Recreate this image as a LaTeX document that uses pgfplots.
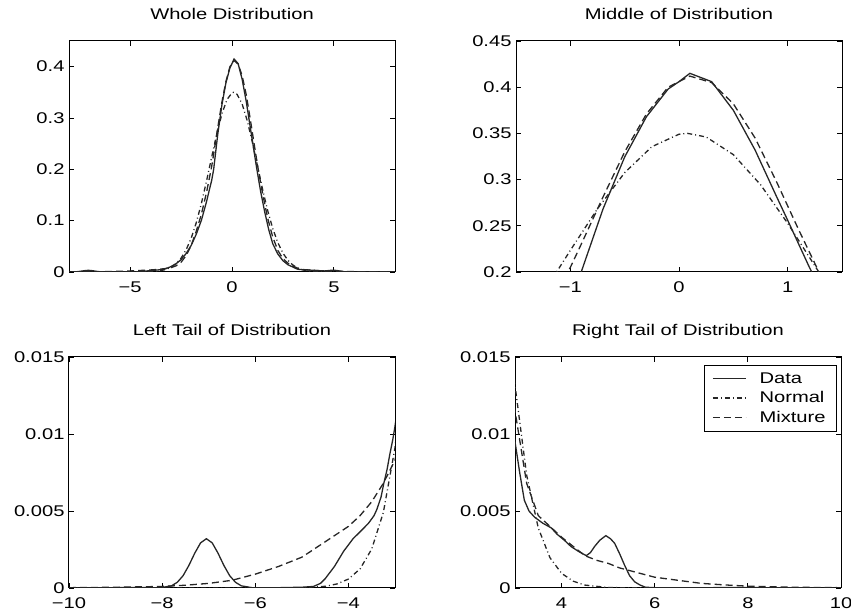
\documentclass[border=0pt]{standalone}
\usepackage{fontspec}
\setmainfont{Liberation Sans}[FakeStretch=1.3]
\usepackage{pgfplots}
\usepackage{pgfplotstable}
\pgfplotsset{compat=1.18}

% Kernel density of the returns
\pgfplotstableread{
x y
-10 0
-9 0.00002
-8.5 0.00004
-8.05 0.00001
-7.8 0.00014
-7.675 0.00037
-7.55 0.0008
-7.425 0.00147
-7.3 0.00226
-7.175 0.00293
-7.05 0.0032
-6.925 0.00293
-6.8 0.00226
-6.675 0.00147
-6.55 0.0008
-6.425 0.00037
-6.3 0.00014
-6.05 0.00001
-5.5 0.00002
-5 0.00005
-4.75 0.0001
-4.6 0.0003
-4.5 0.0006
-4.4 0.0010
-4.3 0.0014
-4.2 0.0019
-4.1 0.0024
-4.0 0.0028
-3.9 0.0032
-3.8 0.0035
-3.7 0.0038
-3.57 0.0042
-3.45 0.0047
-3.39 0.0051
-3.3 0.0059
-3.24 0.0068
-3.17 0.0077
-3.11 0.0087
-3.05 0.0096
-3.0 0.0105
-2.75 0.016
-2.5 0.024
-2.25 0.036
-2.0 0.052
-1.75 0.074
-1.5 0.101
-1.25 0.137
-1.1 0.162
-1.0 0.178
-0.9 0.200
-0.7 0.268
-0.5 0.3245
-0.3 0.368
-0.1 0.398
0.0 0.406
0.1 0.415
0.3 0.406
0.5 0.375
0.7 0.332
0.9 0.281
1.0 0.256
1.2 0.205
1.4 0.158
1.6 0.118
1.8 0.083
2.0 0.055
2.25 0.035
2.5 0.022
2.75 0.014
3.0 0.0095
3.1 0.0075
3.2 0.0057
3.3 0.0050
3.42 0.0046
3.6 0.0042
3.78 0.0039
3.9 0.0035
4.06 0.0031
4.2 0.0027
4.35 0.0024
4.53 0.0021
4.62 0.0023
4.71 0.0027
4.82 0.0031
4.95 0.0034
5.05 0.0032
5.14 0.0029
5.25 0.0022
5.35 0.0015
5.46 0.0008
5.57 0.0004
5.68 0.0002
5.8 0.00005
6.0 0.00002
7 0.00002
8 0.00003
9 0.00001
10 0
}\datatab

% Fitted normal density
\pgfplotstableread{
x y
-10 0
-6 0
-5 0.00002
-4.5 0.00011
-4.25 0.00026
-4 0.00058
-3.75 0.00124
-3.5 0.00253
-3.25 0.00491
-3 0.0091
-2.75 0.0161
-2.5 0.0270
-2.25 0.0433
-2 0.0662
-1.75 0.0965
-1.5 0.1339
-1.25 0.1772
-1 0.2234
-0.75 0.2685
-0.5 0.3075
-0.25 0.3356
0 0.3491
0.08 0.35
0.25 0.3461
0.5 0.3270
0.75 0.2945
1 0.2527
1.25 0.2067
1.5 0.1611
1.75 0.1197
2 0.0847
2.25 0.0572
2.5 0.0368
2.75 0.0225
3 0.01316
3.25 0.00733
3.5 0.00389
3.75 0.00197
4 0.00095
4.25 0.00044
4.5 0.00019
5 0.00003
6 0
10 0
}\normtab

% Fitted mixture density
\pgfplotstableread{
x y
-10 0.00002
-9 0.00005
-8 0.0001
-7.5 0.00018
-7 0.0003
-6.5 0.0005
-6 0.0009
-5.5 0.0014
-5 0.0020
-4.75 0.0025
-4.5 0.0030
-4.25 0.0035
-4 0.0040
-3.75 0.0047
-3.5 0.0056
-3.25 0.0068
-3 0.0083
-2.75 0.012
-2.5 0.019
-2.25 0.032
-2 0.052
-1.75 0.080
-1.5 0.113
-1.25 0.155
-1.0 0.205
-0.9 0.230
-0.7 0.281
-0.5 0.330
-0.3 0.371
-0.1 0.400
0.1 0.412
0.3 0.405
0.5 0.382
0.7 0.345
0.9 0.297
1.1 0.246
1.3 0.197
1.5 0.153
1.75 0.105
2 0.068
2.25 0.042
2.5 0.026
2.75 0.017
3 0.0115
3.25 0.0068
3.5 0.0047
3.75 0.0040
4 0.0033
4.25 0.0027
4.5 0.0021
4.75 0.0018
5 0.0016
5.25 0.0013
5.5 0.0011
5.75 0.0009
6 0.0007
6.5 0.0005
7 0.0003
7.5 0.0002
8 0.00012
9 0.00005
10 0.00002
}\mixtab

\pgfplotsset{
  panel/.style={
    scale only axis, width=326pt, height=231pt,
    font=\fontsize{15.5}{18}\selectfont,
    axis line style={line width=1pt, black},
    tick style={line width=0.8pt, black},
    major tick length=5pt, tick align=inside,
    xticklabel shift=6pt, yticklabel shift=1pt,
    scaled ticks=false,
    title style={at={(0.5,1)}, anchor=base, yshift=15pt},
    anchor=south west,
  },
  sdata/.style={black!85, line width=1.3pt},
  snorm/.style={black!85, line width=1.3pt, dash pattern=on 5pt off 3pt on 1pt off 3pt},
  smix/.style={black!85, line width=1.3pt, dash pattern=on 7pt off 4pt},
}

\begin{document}
\begin{tikzpicture}
\useasboundingbox (0,0) rectangle (851pt,615pt);

% Whole distribution
\begin{axis}[panel, at={(69pt,343pt)},
  title={Whole Distribution},
  xmin=-8, xmax=8, ymin=0, ymax=0.45,
  xtick={-5,0,5}, xticklabels={−5,0,5},
  ytick={0,0.1,0.2,0.3,0.4}, yticklabels={0,0.1,0.2,0.3,0.4}]
  \addplot[sdata] table[x=x,y=y] {\datatab};
  \addplot[snorm] table[x=x,y=y] {\normtab};
  \addplot[smix] table[x=x,y=y] {\mixtab};
\end{axis}

% Middle of distribution
\begin{axis}[panel, at={(516pt,343pt)},
  title={Middle of Distribution},
  xmin=-1.5, xmax=1.5, ymin=0.2, ymax=0.45,
  xtick={-1,0,1}, xticklabels={−1,0,1},
  ytick={0.2,0.25,0.3,0.35,0.4,0.45},
  yticklabels={0.2,0.25,0.3,0.35,0.4,0.45}]
  \addplot[sdata] table[x=x,y=y] {\datatab};
  \addplot[snorm] table[x=x,y=y] {\normtab};
  \addplot[smix] table[x=x,y=y] {\mixtab};
\end{axis}

% Left tail
\begin{axis}[panel, at={(69pt,27pt)},
  title={Left Tail of Distribution},
  xmin=-10, xmax=-3, ymin=0, ymax=0.015,
  xtick={-10,-8,-6,-4}, xticklabels={−10,−8,−6,−4},
  ytick={0,0.005,0.01,0.015}, yticklabels={0,0.005,0.01,0.015}]
  \addplot[sdata] table[x=x,y=y] {\datatab};
  \addplot[snorm] table[x=x,y=y] {\normtab};
  \addplot[smix] table[x=x,y=y] {\mixtab};
\end{axis}

% Right tail
\begin{axis}[panel, at={(515pt,27pt)},
  title={Right Tail of Distribution},
  xmin=3, xmax=10, ymin=0, ymax=0.015,
  xtick={4,6,8,10}, xticklabels={4,6,8,10},
  ytick={0,0.005,0.01,0.015}, yticklabels={0,0.005,0.01,0.015},
  legend cell align=left,
  legend image code/.code={\draw[#1] (0pt,0pt) -- (33pt,0pt);},
  legend style={at={(0.988,0.965)}, anchor=north east,
    draw=black, line width=1pt, fill=white,
    font=\fontsize{15.5}{18}\selectfont,
    row sep=5pt, column sep=10pt, inner xsep=8pt, inner ysep=6pt,
    nodes={inner xsep=3pt, inner ysep=1pt}}]
  \addplot[sdata] table[x=x,y=y] {\datatab};
  \addlegendentry{Data}
  \addplot[snorm] table[x=x,y=y] {\normtab};
  \addlegendentry{Normal}
  \addplot[smix] table[x=x,y=y] {\mixtab};
  \addlegendentry{Mixture}
\end{axis}
\end{tikzpicture}
\end{document}
